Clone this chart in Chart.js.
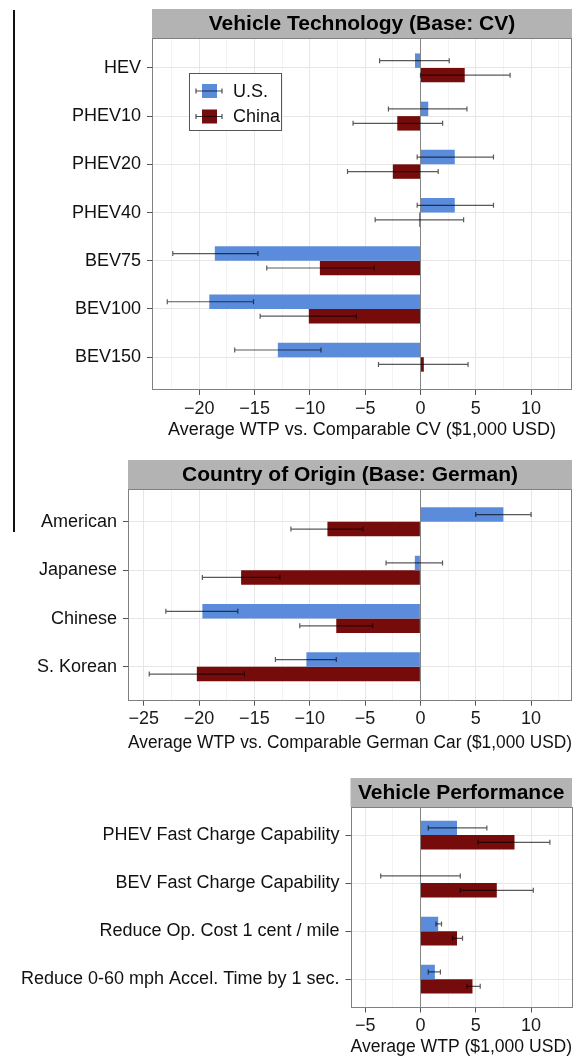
<!DOCTYPE html>
<html lang="en">
<head>
<meta charset="UTF-8" />
<title>Average WTP: U.S. vs China</title>
<script src="https://cdn.jsdelivr.net/npm/chart.js"></script>
<style>
  body { margin: 0; background: #fff; font-family: "Liberation Sans", Arial, sans-serif; }
  .panel { position: absolute; left: 0; width: 581px; }
  #marker { position: absolute; left: 13px; top: 10px; width: 1.5px; height: 522px; background: #111; }
</style>
</head>
<body>
<div id="marker"></div>
<div class="panel" style="top:0;height:445px"><canvas id="tech"></canvas></div>
<div class="panel" style="top:445px;height:310px"><canvas id="origin"></canvas></div>
<div class="panel" style="top:755px;height:303px"><canvas id="perf"></canvas></div>

<script>
const series = ["U.S.", "China"];
const colors = ["#5b8cdc", "#760b0b"];

// Vehicle technology (base: CV)
const techCats = ["HEV", "PHEV10", "PHEV20", "PHEV40", "BEV75", "BEV100", "BEV150"];
const techUS = [-0.5, 0.7, 3.1, 3.1, -18.6, -19.1, -12.9];
const techUSLow = [-3.7, -2.9, -0.3, -0.3, -22.4, -22.9, -16.8];
const techUSHigh = [2.6, 4.2, 6.6, 6.6, -14.7, -15.1, -9.0];
const techCN = [4.0, -2.1, -2.5, -0.1, -9.1, -10.1, 0.3];
const techCNLow = [0.0, -6.1, -6.6, -4.1, -13.9, -14.5, -3.8];
const techCNHigh = [8.1, 2.0, 1.6, 3.9, -4.2, -5.8, 4.3];

// Country of origin (base: German)
const originCats = ["American", "Japanese", "Chinese", "S. Korean"];
const originUS = [7.5, -0.5, -19.7, -10.3];
const originUSLow = [5.0, -3.1, -23.0, -13.1];
const originUSHigh = [10.0, 2.0, -16.5, -7.6];
const originCN = [-8.4, -16.2, -7.6, -20.2];
const originCNLow = [-11.7, -19.7, -10.9, -24.5];
const originCNHigh = [-5.2, -12.7, -4.3, -15.9];

// Vehicle performance
const perfCats = ["PHEV Fast Charge Capability", "BEV Fast Charge Capability",
  "Reduce Op. Cost 1 cent / mile", "Reduce 0-60 mph Accel. Time by 1 sec."];
const perfUS = [3.3, 0.0, 1.6, 1.3];
const perfUSLow = [0.7, -3.6, 1.4, 0.7];
const perfUSHigh = [6.0, 3.6, 1.9, 1.8];
const perfCN = [8.5, 6.9, 3.3, 4.7];
const perfCNLow = [5.2, 3.6, 2.9, 4.2];
const perfCNHigh = [11.7, 10.2, 3.8, 5.4];

const FONT = '"Liberation Sans", Arial, sans-serif';

function fmt(v) {
  return v < 0 ? "\u2212" + Math.abs(v) : String(v);
}

// strip header, zero line, error bars, frame and legend
const panelDeco = {
  id: "panelDeco",
  beforeDraw(chart, args, opts) {
    const a = chart.chartArea, ctx = chart.ctx;
    ctx.save();
    ctx.fillStyle = "#b3b3b3";
    ctx.fillRect(a.left, a.top - 29, a.right - a.left, 29);
    ctx.fillStyle = "#000";
    ctx.font = "bold 21px " + FONT;
    ctx.textAlign = "center";
    ctx.textBaseline = "middle";
    ctx.fillText(opts.title, (a.left + a.right) / 2, a.top - 14);
    ctx.restore();
  },
  beforeDatasetsDraw(chart) {
    const a = chart.chartArea, ctx = chart.ctx;
    const x0 = Math.round(chart.scales.x.getPixelForValue(0)) + 0.5;
    ctx.save();
    ctx.strokeStyle = "#858585";
    ctx.lineWidth = 1;
    ctx.beginPath();
    ctx.moveTo(x0, a.top);
    ctx.lineTo(x0, a.bottom);
    ctx.stroke();
    ctx.restore();
  },
  afterDatasetsDraw(chart, args, opts) {
    const ctx = chart.ctx, xs = chart.scales.x, a = chart.chartArea;
    ctx.save();
    ctx.strokeStyle = "rgba(0,0,0,0.65)";
    ctx.lineWidth = 1.2;
    chart.data.datasets.forEach((ds, di) => {
      chart.getDatasetMeta(di).data.forEach((bar, i) => {
        const x1 = xs.getPixelForValue(ds.errLow[i]);
        const x2 = xs.getPixelForValue(ds.errHigh[i]);
        const y = bar.y;
        ctx.beginPath();
        ctx.moveTo(x1, y); ctx.lineTo(x2, y);
        ctx.moveTo(x1, y - 2.5); ctx.lineTo(x1, y + 2.5);
        ctx.moveTo(x2, y - 2.5); ctx.lineTo(x2, y + 2.5);
        ctx.stroke();
      });
    });

    ctx.strokeStyle = "#808080";
    ctx.lineWidth = 1;
    ctx.strokeRect(Math.round(a.left) + 0.5, Math.round(a.top) + 0.5,
      Math.round(a.right - a.left) - 1, Math.round(a.bottom - a.top) - 1);

    const L = opts.legend;
    if (L) {
      ctx.fillStyle = "#fff";
      ctx.fillRect(L.x, L.y, L.w, L.h);
      ctx.strokeStyle = "#555";
      ctx.strokeRect(L.x + 0.5, L.y + 0.5, L.w, L.h);
      chart.data.datasets.forEach((ds, i) => {
        const cy = L.y + 18 + i * 25.5;
        ctx.fillStyle = ds.backgroundColor;
        ctx.fillRect(L.x + 13, cy - 7, 15, 14);
        ctx.strokeStyle = "rgba(0,0,0,0.7)";
        ctx.lineWidth = 1.2;
        ctx.beginPath();
        ctx.moveTo(L.x + 7, cy); ctx.lineTo(L.x + 33, cy);
        ctx.moveTo(L.x + 7, cy - 2.5); ctx.lineTo(L.x + 7, cy + 2.5);
        ctx.moveTo(L.x + 33, cy - 2.5); ctx.lineTo(L.x + 33, cy + 2.5);
        ctx.stroke();
        ctx.fillStyle = "#111";
        ctx.font = "18px " + FONT;
        ctx.textAlign = "left";
        ctx.textBaseline = "middle";
        ctx.fillText(ds.label, L.x + 44, cy + 1);
      });
    }
    ctx.restore();
  }
};

function makePanel(id, cats, us, usLow, usHigh, cn, cnLow, cnHigh, cfg) {
  const toPts = arr => arr.map((v, i) => ({ x: v, y: i }));
  return new Chart(document.getElementById(id), {
    type: "bar",
    data: {
      datasets: [
        { label: series[0], data: toPts(us), errLow: usLow, errHigh: usHigh,
          backgroundColor: colors[0], categoryPercentage: 0.6, barPercentage: 1 },
        { label: series[1], data: toPts(cn), errLow: cnLow, errHigh: cnHigh,
          backgroundColor: colors[1], categoryPercentage: 0.6, barPercentage: 1 }
      ]
    },
    plugins: [panelDeco],
    options: {
      indexAxis: "y",
      responsive: true,
      maintainAspectRatio: false,
      animation: false,
      layout: { padding: { top: cfg.padTop, right: 9, left: 0, bottom: 0 } },
      plugins: {
        legend: { display: false },
        tooltip: { enabled: false },
        panelDeco: { title: cfg.title, legend: cfg.legend }
      },
      scales: {
        x: {
          type: "linear",
          min: cfg.xMin,
          max: 13.7,
          afterFit: s => { s.height = cfg.xAxisH; },
          border: { display: false },
          grid: {
            color: c => (c.tick && c.tick.value % 5 === 0) ? "#e6e6e6" : "#f3f3f3",
            tickColor: c => (c.tick && c.tick.value % 5 === 0) ? "#555" : "rgba(0,0,0,0)",
            tickLength: 5
          },
          ticks: {
            stepSize: 2.5,
            includeBounds: false,
            autoSkip: false,
            maxRotation: 0,
            padding: 3,
            color: "#1a1a1a",
            font: { family: FONT, size: 18 },
            callback: v => v % 5 === 0 ? fmt(v) : ""
          },
          title: {
            display: true,
            text: cfg.xTitle,
            color: "#111",
            font: { family: FONT, size: 18 },
            padding: { top: 0, bottom: cfg.titlePad }
          }
        },
        y: {
          type: "linear",
          reverse: true,
          offset: false,
          min: cfg.yMin,
          max: cfg.yMax,
          afterFit: s => { s.width = cfg.left; },
          border: { display: false },
          grid: { offset: false, color: "#e6e6e6", tickColor: "#555", tickLength: 5 },
          ticks: {
            stepSize: 1,
            includeBounds: false,
            autoSkip: false,
            padding: 6,
            color: "#111",
            font: { family: FONT, size: 18 },
            callback: v => cats[v] !== undefined ? cats[v] : ""
          }
        }
      }
    }
  });
}

makePanel("tech", techCats, techUS, techUSLow, techUSHigh, techCN, techCNLow, techCNHigh, {
  title: "Vehicle Technology (Base: CV)",
  xTitle: "Average WTP vs. Comparable CV ($1,000 USD)",
  padTop: 38, left: 152, xAxisH: 55, titlePad: 4,
  xMin: -24.28, yMin: -0.62, yMax: 6.68,
  legend: { x: 189, y: 73, w: 92, h: 57 }
});

makePanel("origin", originCats, originUS, originUSLow, originUSHigh, originCN, originCNLow, originCNHigh, {
  title: "Country of Origin (Base: German)",
  xTitle: "Average WTP vs. Comparable German Car ($1,000 USD)",
  padTop: 44, left: 128, xAxisH: 54.3, titlePad: 1,
  xMin: -26.42, yMin: -0.68, yMax: 3.7
});

makePanel("perf", perfCats, perfUS, perfUSLow, perfUSHigh, perfCN, perfCNLow, perfCNHigh, {
  title: "Vehicle Performance",
  xTitle: "Average WTP ($1,000 USD)",
  padTop: 52, left: 350.5, xAxisH: 50.5, titlePad: 0,
  xMin: -6.33, yMin: -0.585, yMax: 3.59
});
</script>
</body>
</html>
